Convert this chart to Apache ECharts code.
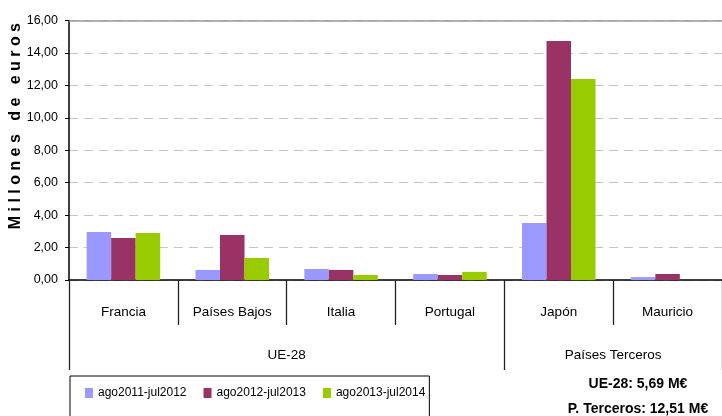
<!DOCTYPE html>
<html>
<head>
<meta charset="utf-8">
<script src="https://cdn.jsdelivr.net/npm/echarts@6/dist/echarts.min.js"></script>
<style>
html,body{margin:0;padding:0;background:#fff;}
#c{width:722px;height:416px;}
</style>
</head>
<body>
<div id="c"></div>
<script>
const categories = ['Francia', 'Países Bajos', 'Italia', 'Portugal', 'Japón', 'Mauricio'];
const groups = ['UE-28', 'Países Terceros'];
const groupSpans = [4, 2];
const seriesNames = ['ago2011-jul2012', 'ago2012-jul2013', 'ago2013-jul2014'];
const s2012 = [2.96, 0.62, 0.68, 0.37, 3.51, 0.18];
const s2013 = [2.59, 2.77, 0.62, 0.31, 14.73, 0.37];
const s2014 = [2.90, 1.36, 0.31, 0.50, 12.39, 0];
const yTicks = [0, 2, 4, 6, 8, 10, 12, 14, 16];
const totals = ['UE-28: 5,69 M€', 'P. Terceros: 12,51 M€'];
const yTitle = 'M i l l o n e s   d e   e u r o s';

const FONT = '"Liberation Sans", Arial, sans-serif';
const colors = ['#9999FF', '#993366', '#99CC00'];

// group boundaries & centers in category units
const bounds = [0];
groupSpans.forEach(s => bounds.push(bounds[bounds.length - 1] + s));
const centers = groups.map((g, i) => (bounds[i] + bounds[i + 1]) / 2);

const chart = echarts.init(document.getElementById('c'), null, {renderer: 'canvas'});
chart.setOption({
  animation: false,
  color: colors,
  grid: {left: 69, right: -2, top: 20.5, bottom: 136, containLabel: false},
  xAxis: [
    {
      type: 'category', data: categories, position: 'bottom',
      axisLine: {lineStyle: {color: '#000', width: 1.5}},
      axisTick: {show: true, alignWithLabel: false, length: 45, lineStyle: {color: '#222', width: 1.3}},
      axisLabel: {margin: 25, fontFamily: FONT, fontSize: 13.5, color: '#000'}
    },
    {
      type: 'value', min: 0, max: categories.length, position: 'bottom', offset: 45,
      axisLine: {show: false},
      splitLine: {show: false},
      axisTick: {show: true, inside: false, length: 45, customValues: bounds, lineStyle: {color: '#222', width: 1.3}},
      axisLabel: {margin: 23, fontFamily: FONT, fontSize: 13.5, color: '#000', customValues: centers,
        formatter: v => groups[centers.indexOf(v)] || ''}
    },
    {
      type: 'category', data: categories, position: 'top',
      axisLine: {show: true, lineStyle: {color: '#999', width: 1.5}},
      axisTick: {show: false}, axisLabel: {show: false}
    }
  ],
  yAxis: {
    type: 'value', min: yTicks[0], max: yTicks[yTicks.length - 1], interval: 2,
    axisLine: {show: true, lineStyle: {color: '#000', width: 1.5}},
    axisTick: {show: true, length: 4, lineStyle: {color: '#000'}},
    axisLabel: {margin: 11, fontFamily: FONT, fontSize: 12.5, color: '#000',
      formatter: v => v.toFixed(2).replace('.', ',')},
    splitLine: {show: true, lineStyle: {color: '#c4c4c4', type: [9, 6], width: 1.2}}
  },
  legend: {
    show: true, left: 70, top: 376, orient: 'horizontal',
    padding: [11, 4, 20, 15],
    borderColor: '#000', borderWidth: 1,
    itemWidth: 8, itemHeight: 10, itemGap: 17,
    icon: 'rect',
    textStyle: {fontFamily: FONT, fontSize: 12, color: '#000'},
    data: seriesNames
  },
  series: [s2012, s2013, s2014].map((d, i) => ({
    name: seriesNames[i], type: 'bar', data: d, barGap: '0%', barWidth: 24.5,
    xAxisIndex: 0, itemStyle: {color: colors[i]}
  })),
  graphic: [
    {type: 'text', left: 8, top: 23, rotation: Math.PI / 2, originX: 0, originY: 0,
      style: {text: yTitle, font: 'bold 16px "Liberation Sans", Arial, sans-serif', fill: '#000'}, silent: true},
    {type: 'text', x: 638, y: 384, style: {text: totals[0], textAlign: 'center', textVerticalAlign: 'middle', font: 'bold 14px ' + FONT, fill: '#000'}},
    {type: 'text', x: 638, y: 409, style: {text: totals[1], textAlign: 'center', textVerticalAlign: 'middle', font: 'bold 14px ' + FONT, fill: '#000'}}
  ]
});
</script>
</body>
</html>
